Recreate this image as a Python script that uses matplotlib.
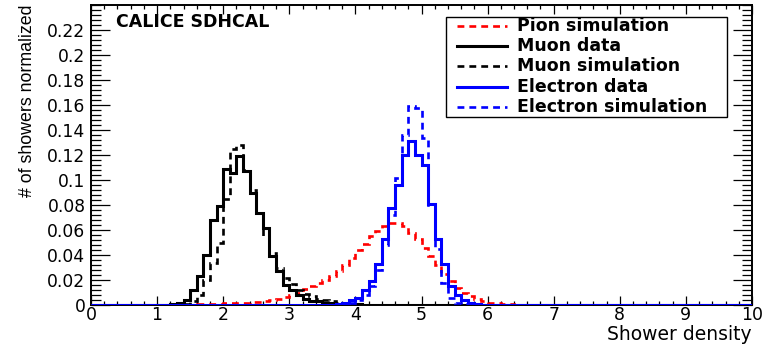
import numpy as np
import matplotlib
matplotlib.use("Agg")
import matplotlib.pyplot as plt
from matplotlib.ticker import MultipleLocator
from matplotlib.patches import Rectangle

# Histogram binning: 100 bins of width 0.1 between 0 and 10
bin_width = 0.1
edges = np.linspace(0.0, 10.0, 101)

# Normalized bin contents, each list starting at the given lower bin edge
pion_sim_start = 1.5
pion_sim = [0.0003, 0.0005, 0.0007, 0.001, 0.001, 0.0013, 0.0015, 0.0018, 0.002,
            0.0023, 0.0027, 0.003, 0.004, 0.005, 0.0065, 0.008, 0.010, 0.013,
            0.015, 0.018, 0.020, 0.023, 0.027, 0.032, 0.038, 0.044, 0.049, 0.055,
            0.059, 0.063, 0.066, 0.066, 0.063, 0.058, 0.053, 0.046, 0.039, 0.032,
            0.025, 0.019, 0.014, 0.010, 0.007, 0.005, 0.003, 0.002, 0.0013,
            0.0008, 0.0005, 0.0003]

muon_data_start = 1.2
muon_data = [0.001, 0.002, 0.004, 0.012, 0.023, 0.040, 0.068, 0.079, 0.109, 0.106,
             0.119, 0.107, 0.090, 0.074, 0.062, 0.039, 0.027, 0.016, 0.012, 0.008,
             0.005, 0.003, 0.003, 0.002, 0.002, 0.001, 0.001, 0.001, 0.001]

muon_sim_start = 1.4
muon_sim = [0.001, 0.003, 0.008, 0.020, 0.034, 0.050, 0.085, 0.125, 0.128, 0.108,
            0.092, 0.074, 0.055, 0.042, 0.030, 0.022, 0.017, 0.012, 0.009, 0.007,
            0.005, 0.004, 0.003, 0.002, 0.002, 0.001, 0.001]

electron_data_start = 3.7
electron_data = [0.001, 0.002, 0.004, 0.006, 0.012, 0.019, 0.033, 0.053, 0.078,
                 0.096, 0.120, 0.131, 0.120, 0.112, 0.081, 0.053, 0.033, 0.015,
                 0.008, 0.004, 0.002, 0.001]

electron_sim_start = 3.8
electron_sim = [0.001, 0.002, 0.004, 0.008, 0.015, 0.028, 0.048, 0.072, 0.102,
                0.136, 0.159, 0.158, 0.134, 0.080, 0.045, 0.018, 0.006, 0.002,
                0.001]

series_labels = ["Pion simulation", "Muon data", "Muon simulation",
                 "Electron data", "Electron simulation"]

x_ticks = list(range(0, 11))
y_ticks = [0, 0.02, 0.04, 0.06, 0.08, 0.1, 0.12, 0.14, 0.16, 0.18, 0.2, 0.22]


def full_hist(start, values):
    """Place a list of bin contents into the full 100-bin array."""
    h = np.zeros(len(edges) - 1)
    i0 = int(round(start / bin_width))
    h[i0:i0 + len(values)] = values
    return h


DASH = (0, (2.6, 1.9))
styles = [
    dict(color="#ff0000", ls=DASH, lw=1.9),
    dict(color="black", ls="-", lw=2.2),
    dict(color="black", ls=DASH, lw=1.9),
    dict(color="#0000ff", ls="-", lw=2.2),
    dict(color="#0000ff", ls=DASH, lw=1.9),
]
series = [
    (pion_sim_start, pion_sim),
    (muon_data_start, muon_data),
    (muon_sim_start, muon_sim),
    (electron_data_start, electron_data),
    (electron_sim_start, electron_sim),
]

plt.rcParams["font.family"] = ["DejaVu Sans"]

fig = plt.figure(figsize=(7.76, 3.46), dpi=100)
ax = fig.add_axes([91 / 776, 1 - 305 / 346, 661 / 776, 300 / 346])

for (start, vals), st in zip(series, styles):
    ax.stairs(full_hist(start, vals), edges, baseline=None,
              color=st["color"], linestyle=st["ls"], linewidth=st["lw"],
              zorder=3)

ax.set_xlim(0, 10)
ax.set_ylim(0, 0.24)

for s in ax.spines.values():
    s.set_linewidth(1.4)
    s.set_zorder(2.5)

ax.set_xticks(x_ticks)
ax.set_xticklabels([str(t) for t in x_ticks])
ax.xaxis.set_minor_locator(MultipleLocator(0.2))
ax.set_yticks(y_ticks)
ax.set_yticklabels(["%g" % t for t in y_ticks])
ax.yaxis.set_minor_locator(MultipleLocator(0.004))

ax.tick_params(axis="both", which="both", direction="in", top=True, right=True,
               width=0.9, color="black")
ax.tick_params(axis="x", which="major", length=6.5, labelsize=12.5, pad=0.5)
ax.tick_params(axis="x", which="minor", length=3.2)
ax.tick_params(axis="y", which="major", length=14, labelsize=12.3, pad=4)
ax.tick_params(axis="y", which="minor", length=7)

ax.text(1.0, -0.097, "Shower density", transform=ax.transAxes, ha="right",
        va="center", fontsize=13.5)
fig.text(28 / 776, 1 - 101 / 346, "# of showers normalized", rotation=90,
         ha="center", va="center", fontsize=12.8,
         family=["Liberation Sans Narrow", "Liberation Sans"])

ax.text((116 - 91) / 661, 1 - (22 - 5) / 300, "CALICE SDHCAL",
        transform=ax.transAxes, ha="left", va="center", fontsize=12.5,
        fontweight="bold")


# Legend box drawn in axes coordinates
def ax_x(px):
    return (px - 91) / 661


def ax_y(py):
    return 1 - (py - 5) / 300


ax.add_patch(Rectangle((ax_x(446), ax_y(117)), ax_x(727) - ax_x(446),
                       ax_y(17) - ax_y(117), transform=ax.transAxes,
                       facecolor="white", edgecolor="black", lw=1.0, zorder=5))
row_y = [26, 46, 66, 86.5, 106.5]
for label, st, ry in zip(series_labels, styles, row_y):
    ax.plot([ax_x(457), ax_x(507)], [ax_y(ry), ax_y(ry)], transform=ax.transAxes,
            color=st["color"], linestyle=st["ls"], linewidth=st["lw"], zorder=6,
            clip_on=False)
    ax.text(ax_x(517), ax_y(ry), label, transform=ax.transAxes, ha="left",
            va="center", fontsize=12.5, fontweight="bold", zorder=6)

fig.savefig("out.png", dpi=100)
